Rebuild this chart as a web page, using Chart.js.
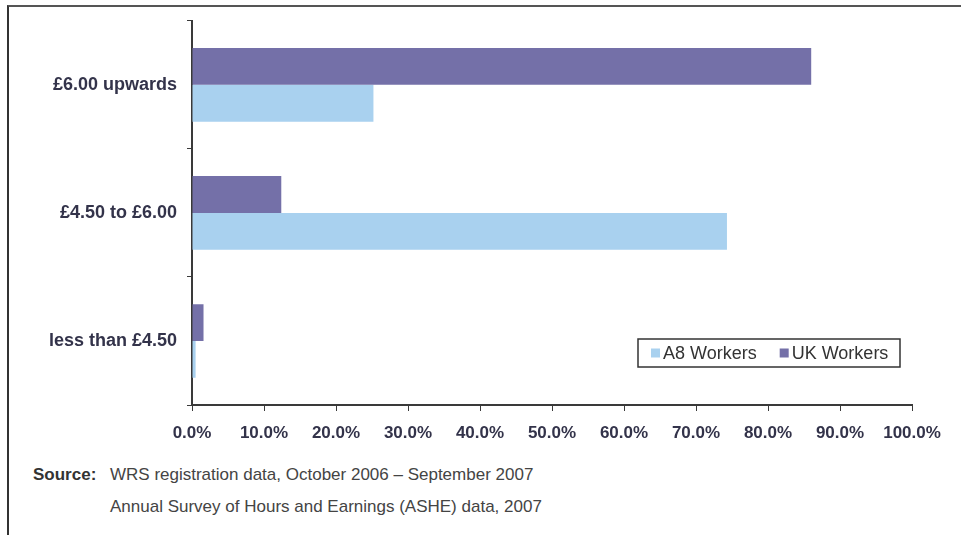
<!DOCTYPE html>
<html lang="en">
  <head>
    <meta charset="UTF-8" />
    <title>Hourly pay: A8 and UK workers</title>
    <script src="https://cdn.jsdelivr.net/npm/chart.js@4/dist/chart.umd.min.js"></script>
    <style>
      body {
        margin: 0;
        background: #fff;
        font-family: 'Liberation Sans', Arial, sans-serif;
      }
      .page {
        position: relative;
        width: 961px;
        height: 535px;
        overflow: hidden;
      }
      .frame {
        position: absolute;
        left: 7px;
        top: 5px;
        width: 980px;
        height: 560px;
        border-top: 2px solid #555;
        border-left: 2px solid #333;
      }
      #chart {
        position: absolute;
        left: 0;
        top: 0;
      }
      .source {
        position: absolute;
        left: 33px;
        font-size: 17px;
        color: #444;
      }
      .source b {
        display: inline-block;
        width: 77px;
        color: #333;
      }
    </style>
  </head>
  <body>
    <div class="page">
      <div class="frame"></div>
      <canvas id="chart" width="961" height="460"></canvas>
      <div class="source" style="top: 465px">
        <b>Source:</b>WRS registration data, October 2006 – September 2007
      </div>
      <div class="source" style="top: 497px; left: 110px">
        Annual Survey of Hours and Earnings (ASHE) data, 2007
      </div>
    </div>

    <script>
      var payBands = ['£6.00 upwards', '£4.50 to £6.00', 'less than £4.50'];
      var ukWorkers = [86.0, 12.4, 1.6];
      var a8Workers = [25.2, 74.3, 0.5];
      var xTicks = [0, 10, 20, 30, 40, 50, 60, 70, 80, 90, 100];

      var ukColor = '#7470a8';
      var a8Color = '#a9d1ef';
      var axisColor = '#3a3a3a';
      var textColor = '#33334a';

      // legend sits in a boxed strip inside the plot, bottom right
      var boxLegend = {
        id: 'boxLegend',
        afterDraw: function (chart) {
          var ctx = chart.ctx;
          var area = chart.chartArea;
          var x = area.right - 274;
          var y = area.bottom - 66;
          var w = 262;
          var h = 28;

          ctx.save();
          ctx.strokeStyle = '#333';
          ctx.lineWidth = 1.5;
          ctx.strokeRect(x, y, w, h);

          ctx.font = '18px "Liberation Sans", Arial, sans-serif';
          ctx.textBaseline = 'middle';
          var cx = x + 13;
          var sets = chart.data.datasets.slice().reverse();
          for (var i = 0; i < sets.length; i++) {
            ctx.fillStyle = sets[i].backgroundColor;
            ctx.fillRect(cx, y + h / 2 - 4.5, 9, 9);
            cx += 12;
            ctx.fillStyle = '#333';
            ctx.fillText(sets[i].label, cx, y + h / 2 + 1);
            cx += ctx.measureText(sets[i].label).width + 23;
          }
          ctx.restore();
        },
      };

      new Chart(document.getElementById('chart'), {
        type: 'bar',
        data: {
          labels: payBands,
          datasets: [
            {
              label: 'UK Workers',
              data: ukWorkers,
              backgroundColor: ukColor,
              categoryPercentage: 0.575,
              barPercentage: 1,
            },
            {
              label: 'A8 Workers',
              data: a8Workers,
              backgroundColor: a8Color,
              categoryPercentage: 0.575,
              barPercentage: 1,
            },
          ],
        },
        options: {
          indexAxis: 'y',
          responsive: false,
          animation: false,
          layout: { padding: { top: 18, right: 49, left: 0, bottom: 0 } },
          plugins: {
            legend: { display: false },
            tooltip: { enabled: false },
          },
          scales: {
            x: {
              min: 0,
              max: 100,
              afterBuildTicks: function (scale) {
                scale.ticks = xTicks.map(function (v) {
                  return { value: v };
                });
              },
              afterFit: function (scale) {
                scale.height = 55;
              },
              border: { color: axisColor, width: 2 },
              grid: {
                drawOnChartArea: false,
                color: axisColor,
                tickLength: 6,
              },
              ticks: {
                padding: 12,
                color: textColor,
                font: {
                  family: '"Liberation Sans", Arial, sans-serif',
                  size: 17,
                  weight: 'bold',
                },
                callback: function (v) {
                  return v.toFixed(1) + '%';
                },
              },
            },
            y: {
              afterFit: function (scale) {
                scale.width = 192;
              },
              border: { color: axisColor, width: 2 },
              grid: {
                drawOnChartArea: false,
                color: axisColor,
                tickLength: 5,
              },
              ticks: {
                padding: 10,
                color: textColor,
                font: {
                  family: '"Liberation Sans", Arial, sans-serif',
                  size: 18,
                  weight: 'bold',
                },
              },
            },
          },
        },
        plugins: [boxLegend],
      });
    </script>
  </body>
</html>
